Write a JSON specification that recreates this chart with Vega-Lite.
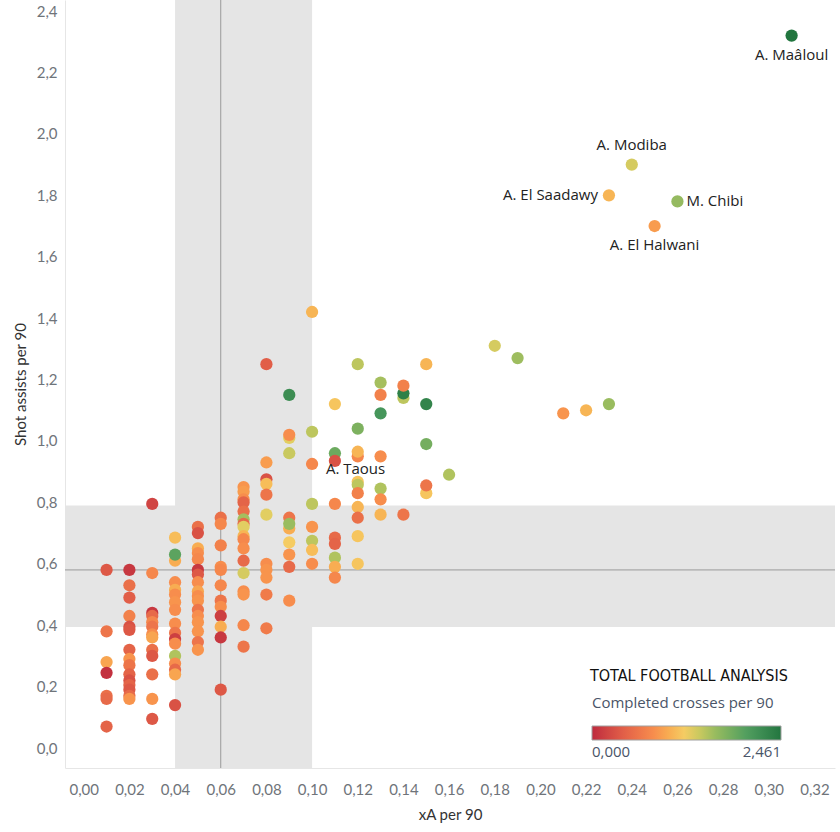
{
  "$schema": "https://vega.github.io/schema/vega-lite/v6.json",
  "width": 770,
  "height": 768,
  "autosize": {"type": "none"},
  "padding": {"left": 65, "top": 0, "right": 5, "bottom": 64},
  "background": "white",
  "title": {
    "text": "TOTAL FOOTBALL ANALYSIS",
    "orient": "top",
    "anchor": "start",
    "frame": "group",
    "offset": 0,
    "dx": 525,
    "dy": 700,
    "baseline": "bottom",
    "font": "DejaVu Sans Condensed, Lato",
    "fontSize": 16,
    "fontWeight": "normal",
    "color": "#111111"
  },
  "config": {
    "view": {"stroke": null},
    "axis": {
      "labelFont": "Lato",
      "labelFontSize": 15,
      "labelColor": "#6f747a",
      "titleFont": "Lato",
      "titleFontSize": 15,
      "titleFontWeight": "normal",
      "titleColor": "#333333",
      "ticks": false,
      "tickSize": 0,
      "domainColor": "#e6e6e6",
      "gridColor": {"condition": {"test": "datum.value === 0", "value": "#b8b8b8"}, "value": "#efefef"},
      "gridDash": {"condition": {"test": "datum.value === 0", "value": [1, 3]}, "value": []}
    }
  },
  "data": {
    "values": [
      {"n": "A. Maâloul", "x": 0.31, "y": 2.32, "c": 2.46},
      {"n": "A. Modiba", "x": 0.24, "y": 1.90, "c": 1.35},
      {"n": "A. El Saadawy", "x": 0.23, "y": 1.80, "c": 1.05},
      {"n": "M. Chibi", "x": 0.26, "y": 1.78, "c": 1.62},
      {"n": "A. El Halwani", "x": 0.25, "y": 1.70, "c": 0.9},
      {"n": "", "x": 0.18, "y": 1.31, "c": 1.35},
      {"n": "", "x": 0.19, "y": 1.27, "c": 1.58},
      {"n": "", "x": 0.21, "y": 1.09, "c": 0.85},
      {"n": "", "x": 0.22, "y": 1.10, "c": 1.05},
      {"n": "", "x": 0.23, "y": 1.12, "c": 1.6},
      {"n": "", "x": 0.16, "y": 0.89, "c": 1.5},
      {"n": "", "x": 0.15, "y": 1.25, "c": 1.05},
      {"n": "", "x": 0.15, "y": 1.12, "c": 2.3},
      {"n": "", "x": 0.15, "y": 0.99, "c": 1.8},
      {"n": "", "x": 0.15, "y": 0.83, "c": 1.15},
      {"n": "", "x": 0.15, "y": 0.855, "c": 0.6},
      {"n": "", "x": 0.14, "y": 1.14, "c": 1.45},
      {"n": "", "x": 0.14, "y": 1.155, "c": 2.35},
      {"n": "", "x": 0.14, "y": 1.18, "c": 0.7},
      {"n": "", "x": 0.14, "y": 0.76, "c": 0.6},
      {"n": "", "x": 0.13, "y": 1.19, "c": 1.55},
      {"n": "", "x": 0.13, "y": 1.15, "c": 0.7},
      {"n": "", "x": 0.13, "y": 1.09, "c": 2.1},
      {"n": "", "x": 0.13, "y": 0.95, "c": 0.8},
      {"n": "", "x": 0.13, "y": 0.845, "c": 1.5},
      {"n": "", "x": 0.13, "y": 0.81, "c": 0.8},
      {"n": "", "x": 0.13, "y": 0.76, "c": 1.05},
      {"n": "", "x": 0.12, "y": 1.25, "c": 1.45},
      {"n": "", "x": 0.12, "y": 1.04, "c": 1.75},
      {"n": "", "x": 0.12, "y": 0.95, "c": 0.75},
      {"n": "", "x": 0.12, "y": 0.965, "c": 1.05},
      {"n": "", "x": 0.12, "y": 0.867, "c": 1.15},
      {"n": "", "x": 0.12, "y": 0.857, "c": 1.45},
      {"n": "", "x": 0.12, "y": 0.83, "c": 0.7},
      {"n": "", "x": 0.12, "y": 0.785, "c": 1.05},
      {"n": "", "x": 0.12, "y": 0.75, "c": 0.55},
      {"n": "", "x": 0.12, "y": 0.69, "c": 1.15},
      {"n": "", "x": 0.12, "y": 0.60, "c": 1.15},
      {"n": "", "x": 0.11, "y": 1.12, "c": 1.15},
      {"n": "", "x": 0.11, "y": 0.96, "c": 1.85},
      {"n": "A. Taous", "x": 0.11, "y": 0.935, "c": 0.3},
      {"n": "", "x": 0.11, "y": 0.795, "c": 0.75},
      {"n": "", "x": 0.11, "y": 0.685, "c": 0.5},
      {"n": "", "x": 0.11, "y": 0.665, "c": 0.45},
      {"n": "", "x": 0.11, "y": 0.62, "c": 1.5},
      {"n": "", "x": 0.11, "y": 0.59, "c": 1.0},
      {"n": "", "x": 0.11, "y": 0.555, "c": 0.75},
      {"n": "", "x": 0.10, "y": 1.42, "c": 1.05},
      {"n": "", "x": 0.10, "y": 1.03, "c": 1.45},
      {"n": "", "x": 0.10, "y": 0.925, "c": 0.75},
      {"n": "", "x": 0.10, "y": 0.795, "c": 1.45},
      {"n": "", "x": 0.10, "y": 0.72, "c": 0.85},
      {"n": "", "x": 0.10, "y": 0.675, "c": 1.45},
      {"n": "", "x": 0.10, "y": 0.645, "c": 1.1},
      {"n": "", "x": 0.10, "y": 0.60, "c": 0.8},
      {"n": "", "x": 0.09, "y": 1.15, "c": 2.2},
      {"n": "", "x": 0.09, "y": 1.01, "c": 1.3},
      {"n": "", "x": 0.09, "y": 1.02, "c": 0.8},
      {"n": "", "x": 0.09, "y": 0.96, "c": 1.4},
      {"n": "", "x": 0.09, "y": 0.75, "c": 0.6},
      {"n": "", "x": 0.09, "y": 0.715, "c": 1.0},
      {"n": "", "x": 0.09, "y": 0.73, "c": 1.6},
      {"n": "", "x": 0.09, "y": 0.67, "c": 1.2},
      {"n": "", "x": 0.09, "y": 0.63, "c": 0.85},
      {"n": "", "x": 0.09, "y": 0.59, "c": 0.5},
      {"n": "", "x": 0.09, "y": 0.48, "c": 0.8},
      {"n": "", "x": 0.08, "y": 1.25, "c": 0.4},
      {"n": "", "x": 0.08, "y": 0.93, "c": 0.9},
      {"n": "", "x": 0.08, "y": 0.875, "c": 0.3},
      {"n": "", "x": 0.08, "y": 0.86, "c": 1.1},
      {"n": "", "x": 0.08, "y": 0.825, "c": 0.6},
      {"n": "", "x": 0.08, "y": 0.76, "c": 1.3},
      {"n": "", "x": 0.08, "y": 0.60, "c": 0.8},
      {"n": "", "x": 0.08, "y": 0.58, "c": 0.85},
      {"n": "", "x": 0.08, "y": 0.555, "c": 0.85},
      {"n": "", "x": 0.08, "y": 0.50, "c": 0.65},
      {"n": "", "x": 0.08, "y": 0.39, "c": 0.65},
      {"n": "", "x": 0.07, "y": 0.85, "c": 0.85},
      {"n": "", "x": 0.07, "y": 0.835, "c": 0.9},
      {"n": "", "x": 0.07, "y": 0.81, "c": 0.8},
      {"n": "", "x": 0.07, "y": 0.80, "c": 0.45},
      {"n": "", "x": 0.07, "y": 0.77, "c": 0.55},
      {"n": "", "x": 0.07, "y": 0.745, "c": 1.55},
      {"n": "", "x": 0.07, "y": 0.73, "c": 0.5},
      {"n": "", "x": 0.07, "y": 0.72, "c": 1.3},
      {"n": "", "x": 0.07, "y": 0.69, "c": 1.05},
      {"n": "", "x": 0.07, "y": 0.68, "c": 0.75},
      {"n": "", "x": 0.07, "y": 0.65, "c": 0.8},
      {"n": "", "x": 0.07, "y": 0.61, "c": 0.5},
      {"n": "", "x": 0.07, "y": 0.57, "c": 1.35},
      {"n": "", "x": 0.07, "y": 0.51, "c": 0.8},
      {"n": "", "x": 0.07, "y": 0.50, "c": 0.85},
      {"n": "", "x": 0.07, "y": 0.40, "c": 0.75},
      {"n": "", "x": 0.07, "y": 0.33, "c": 0.6},
      {"n": "", "x": 0.06, "y": 0.75, "c": 0.55},
      {"n": "", "x": 0.06, "y": 0.73, "c": 0.75},
      {"n": "", "x": 0.06, "y": 0.66, "c": 0.7},
      {"n": "", "x": 0.06, "y": 0.59, "c": 0.8},
      {"n": "", "x": 0.06, "y": 0.58, "c": 0.75},
      {"n": "", "x": 0.06, "y": 0.53, "c": 0.75},
      {"n": "", "x": 0.06, "y": 0.48, "c": 0.6},
      {"n": "", "x": 0.06, "y": 0.46, "c": 0.8},
      {"n": "", "x": 0.06, "y": 0.43, "c": 0.15},
      {"n": "", "x": 0.06, "y": 0.395, "c": 1.0},
      {"n": "", "x": 0.06, "y": 0.36, "c": 0.1},
      {"n": "", "x": 0.06, "y": 0.19, "c": 0.35},
      {"n": "", "x": 0.05, "y": 0.72, "c": 0.55},
      {"n": "", "x": 0.05, "y": 0.70, "c": 0.3},
      {"n": "", "x": 0.05, "y": 0.65, "c": 1.0},
      {"n": "", "x": 0.05, "y": 0.635, "c": 0.8},
      {"n": "", "x": 0.05, "y": 0.615, "c": 0.75},
      {"n": "", "x": 0.05, "y": 0.58, "c": 0.1},
      {"n": "", "x": 0.05, "y": 0.565, "c": 0.35},
      {"n": "", "x": 0.05, "y": 0.54, "c": 0.8},
      {"n": "", "x": 0.05, "y": 0.51, "c": 0.95},
      {"n": "", "x": 0.05, "y": 0.495, "c": 0.8},
      {"n": "", "x": 0.05, "y": 0.48, "c": 0.85},
      {"n": "", "x": 0.05, "y": 0.45, "c": 0.6},
      {"n": "", "x": 0.05, "y": 0.43, "c": 0.8},
      {"n": "", "x": 0.05, "y": 0.41, "c": 0.85},
      {"n": "", "x": 0.05, "y": 0.38, "c": 0.85},
      {"n": "", "x": 0.05, "y": 0.345, "c": 0.6},
      {"n": "", "x": 0.05, "y": 0.32, "c": 0.85},
      {"n": "", "x": 0.04, "y": 0.685, "c": 1.1},
      {"n": "", "x": 0.04, "y": 0.61, "c": 1.0},
      {"n": "", "x": 0.04, "y": 0.63, "c": 1.95},
      {"n": "", "x": 0.04, "y": 0.54, "c": 0.8},
      {"n": "", "x": 0.04, "y": 0.515, "c": 1.0},
      {"n": "", "x": 0.04, "y": 0.50, "c": 0.8},
      {"n": "", "x": 0.04, "y": 0.475, "c": 0.85},
      {"n": "", "x": 0.04, "y": 0.45, "c": 0.8},
      {"n": "", "x": 0.04, "y": 0.405, "c": 0.8},
      {"n": "", "x": 0.04, "y": 0.375, "c": 0.6},
      {"n": "", "x": 0.04, "y": 0.355, "c": 0.15},
      {"n": "", "x": 0.04, "y": 0.34, "c": 0.8},
      {"n": "", "x": 0.04, "y": 0.30, "c": 1.5},
      {"n": "", "x": 0.04, "y": 0.275, "c": 0.8},
      {"n": "", "x": 0.04, "y": 0.255, "c": 0.5},
      {"n": "", "x": 0.04, "y": 0.24, "c": 0.95},
      {"n": "", "x": 0.04, "y": 0.14, "c": 0.3},
      {"n": "", "x": 0.03, "y": 0.795, "c": 0.2},
      {"n": "", "x": 0.03, "y": 0.57, "c": 0.75},
      {"n": "", "x": 0.03, "y": 0.44, "c": 0.1},
      {"n": "", "x": 0.03, "y": 0.43, "c": 0.5},
      {"n": "", "x": 0.03, "y": 0.41, "c": 0.75},
      {"n": "", "x": 0.03, "y": 0.395, "c": 0.6},
      {"n": "", "x": 0.03, "y": 0.37, "c": 0.8},
      {"n": "", "x": 0.03, "y": 0.36, "c": 0.95},
      {"n": "", "x": 0.03, "y": 0.32, "c": 0.55},
      {"n": "", "x": 0.03, "y": 0.30, "c": 0.35},
      {"n": "", "x": 0.03, "y": 0.24, "c": 0.55},
      {"n": "", "x": 0.03, "y": 0.16, "c": 0.85},
      {"n": "", "x": 0.03, "y": 0.095, "c": 0.35},
      {"n": "", "x": 0.02, "y": 0.58, "c": 0.1},
      {"n": "", "x": 0.02, "y": 0.53, "c": 0.55},
      {"n": "", "x": 0.02, "y": 0.49, "c": 0.4},
      {"n": "", "x": 0.02, "y": 0.43, "c": 0.7},
      {"n": "", "x": 0.02, "y": 0.395, "c": 0.3},
      {"n": "", "x": 0.02, "y": 0.385, "c": 0.35},
      {"n": "", "x": 0.02, "y": 0.32, "c": 0.45},
      {"n": "", "x": 0.02, "y": 0.29, "c": 0.85},
      {"n": "", "x": 0.02, "y": 0.27, "c": 0.6},
      {"n": "", "x": 0.02, "y": 0.24, "c": 0.45},
      {"n": "", "x": 0.02, "y": 0.22, "c": 0.3},
      {"n": "", "x": 0.02, "y": 0.205, "c": 0.45},
      {"n": "", "x": 0.02, "y": 0.19, "c": 0.35},
      {"n": "", "x": 0.02, "y": 0.17, "c": 0.5},
      {"n": "", "x": 0.02, "y": 0.16, "c": 0.85},
      {"n": "", "x": 0.01, "y": 0.58, "c": 0.35},
      {"n": "", "x": 0.01, "y": 0.38, "c": 0.6},
      {"n": "", "x": 0.01, "y": 0.28, "c": 0.95},
      {"n": "", "x": 0.01, "y": 0.245, "c": 0.05},
      {"n": "", "x": 0.01, "y": 0.17, "c": 0.55},
      {"n": "", "x": 0.01, "y": 0.16, "c": 0.5},
      {"n": "", "x": 0.01, "y": 0.07, "c": 0.45}
    ]
  },
  "encoding": {
    "x": {
      "type": "quantitative",
      "scale": {"domain": [-0.0082, 0.329], "nice": false, "zero": false},
      "axis": {
        "title": "xA per 90",
        "values": [0, 0.02, 0.04, 0.06, 0.08, 0.1, 0.12, 0.14, 0.16, 0.18, 0.2, 0.22, 0.24, 0.26, 0.28, 0.3, 0.32],
        "labelExpr": "replace(format(datum.value, '.2f'), '.', ',')",
        "labelPadding": 14,
        "titlePadding": 10
      }
    },
    "y": {
      "type": "quantitative",
      "scale": {"domain": [-0.065, 2.436], "nice": false, "zero": false},
      "axis": {
        "title": "Shot assists per 90",
        "values": [0, 0.2, 0.4, 0.6, 0.8, 1, 1.2, 1.4, 1.6, 1.8, 2, 2.2, 2.4],
        "labelExpr": "replace(format(datum.value, '.1f'), '.', ',')",
        "labelPadding": 8,
        "titlePadding": 8
      }
    }
  },
  "layer": [
    {
      "data": {"values": [{}]},
      "mark": {"type": "rect", "color": "#e5e5e5"},
      "encoding": {"x": {"datum": 0.04}, "x2": {"datum": 0.10}}
    },
    {
      "data": {"values": [{}]},
      "mark": {"type": "rect", "color": "#e5e5e5"},
      "encoding": {"y": {"datum": 0.394}, "y2": {"datum": 0.79}}
    },
    {
      "data": {"values": [{}]},
      "mark": {"type": "rule", "color": "#999999", "strokeWidth": 1},
      "encoding": {"x": {"datum": 0.06}}
    },
    {
      "data": {"values": [{}]},
      "mark": {"type": "rule", "color": "#999999", "strokeWidth": 1},
      "encoding": {"y": {"datum": 0.58}}
    },
    {
      "mark": {"type": "circle", "size": 150, "opacity": 1},
      "encoding": {
        "x": {"field": "x"},
        "y": {"field": "y"},
        "color": {
          "field": "c",
          "type": "quantitative",
          "scale": {
            "domain": [0, 0.41, 0.82, 1.2305, 1.64, 2.05, 2.461],
            "range": ["#be2a3e", "#e25f48", "#f88f4d", "#f4d166", "#90b960", "#4b9b5f", "#22763f"]
          },
          "legend": {
            "title": "Completed crosses per 90",
            "orient": "none",
            "legendX": 527,
            "legendY": 696,
            "direction": "horizontal",
            "gradientLength": 189,
            "gradientThickness": 14,
            "gradientStrokeColor": "#a0a0a0",
            "gradientStrokeWidth": 1,
            "values": [0, 2.461],
            "labelExpr": "replace(format(datum.value, '.3f'), '.', ',')",
            "labelFont": "Open Sans",
            "labelFontSize": 15,
            "labelColor": "#4a5568",
            "titleFont": "Open Sans",
            "titleFontSize": 15,
            "titleFontWeight": "normal",
            "titleColor": "#4a5568",
            "titleLimit": 400,
            "titlePadding": 15,
            "labelOffset": 5
          }
        }
      }
    },
    {
      "transform": [{"filter": "datum.n === 'A. Maâloul' || datum.n === 'A. El Halwani'"}],
      "mark": {"type": "text", "font": "Open Sans", "fontSize": 15, "color": "#222222", "baseline": "top", "dy": 12},
      "encoding": {"x": {"field": "x"}, "y": {"field": "y"}, "text": {"field": "n"}}
    },
    {
      "transform": [{"filter": "datum.n === 'A. Modiba'"}],
      "mark": {"type": "text", "font": "Open Sans", "fontSize": 15, "color": "#222222", "baseline": "bottom", "dy": -12},
      "encoding": {"x": {"field": "x"}, "y": {"field": "y"}, "text": {"field": "n"}}
    },
    {
      "transform": [{"filter": "datum.n === 'A. El Saadawy'"}],
      "mark": {"type": "text", "font": "Open Sans", "fontSize": 15, "color": "#222222", "align": "right", "baseline": "middle", "dx": -11},
      "encoding": {"x": {"field": "x"}, "y": {"field": "y"}, "text": {"field": "n"}}
    },
    {
      "transform": [{"filter": "datum.n === 'M. Chibi'"}],
      "mark": {"type": "text", "font": "Open Sans", "fontSize": 15, "color": "#222222", "align": "left", "baseline": "middle", "dx": 9},
      "encoding": {"x": {"field": "x"}, "y": {"field": "y"}, "text": {"field": "n"}}
    },
    {
      "transform": [{"filter": "datum.n === 'A. Taous'"}],
      "mark": {"type": "text", "font": "Open Sans", "fontSize": 15, "color": "#222222", "align": "left", "baseline": "middle", "dx": -9, "dy": 8},
      "encoding": {"x": {"field": "x"}, "y": {"field": "y"}, "text": {"field": "n"}}
    }
  ]
}
